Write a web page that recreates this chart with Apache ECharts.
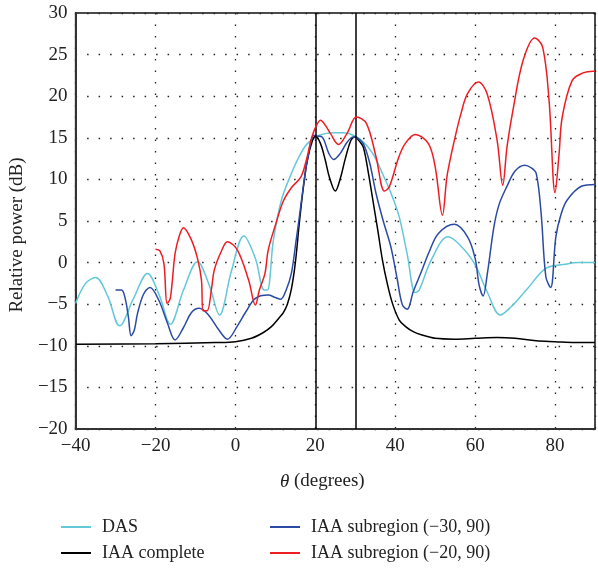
<!DOCTYPE html>
<html>
<head>
<meta charset="utf-8">
<script src="https://cdn.jsdelivr.net/npm/echarts@6/dist/echarts.min.js"></script>
<style>html,body{margin:0;padding:0;background:#fff}#c{width:598px;height:569px}</style>
</head>
<body>
<div id="c"></div>
<script>
const xTicks = [-40, -20, 0, 20, 40, 60, 80];
const yTicks = [-20, -15, -10, -5, 0, 5, 10, 15, 20, 25, 30];
const seriesNames = ['DAS', 'IAA complete', 'IAA subregion (\u221230, 90)', 'IAA subregion (\u221220, 90)'];
const markerAngles = [20, 30];

const dasTheta = [-40,-37.5,-35,-32,-29,-25.5,-22,-19,-16.3,-13,-9.5,-6.5,-4,-1,2.1,5,7.2,8,9.5,11.5,14,16,18,21,24.6,27,29.5,32,34.4,37,39.3,41,43,45,46,49,53.2,56,59.8,63,66.3,69,72.8,77.7,82.6,86,90];
const dasPower = [-4.9,-2.5,-1.8,-4,-7.6,-4.3,-1.3,-4,-7.4,-3.3,0.1,-2.8,-6.3,-1,3.2,0.5,-3.3,-3.3,2.7,7.5,10.7,12.8,14.3,15.3,15.6,15.6,15.3,14.5,13.1,10.5,7.9,5.5,1,-3.6,-3.3,0.3,3.1,2.2,-0.1,-3.5,-6.3,-5.3,-3.3,-0.7,-0.2,0,0];

const iaaTheta = [-40,-20,-5,0,4,7,9,11,12,13,14,15,16,17,18,19.3,20.1,21.3,22.5,23.5,25,26.3,27.5,29,30,31,32,33.2,34.4,35.6,36.8,38,39.3,41,42.6,44.5,46.7,50,54.8,60,65.5,70,75.3,80,85,90];
const iaaPower = [-9.8,-9.75,-9.6,-9.5,-9.1,-8.4,-7.7,-6.6,-6,-5,-3.2,0,4.8,9,12.3,14.7,15.2,14.3,12.3,10.3,8.6,10.2,12.5,14.8,15.1,14.6,13.9,11,7.5,4,0.3,-2.5,-4.9,-6.9,-7.7,-8.3,-8.7,-9.1,-9.2,-9.1,-9.0,-9.1,-9.4,-9.5,-9.6,-9.6];

const sub30Theta = [-30,-28.5,-27.6,-26.8,-26.1,-25.3,-24.5,-23,-21.4,-19.2,-17,-15.1,-13,-11,-9.1,-6.9,-4,-2,0.5,2.5,5,8.2,10,11.3,12.7,14,15.2,16,17.2,18,19.7,20.5,21.7,23.4,24.6,26.2,28,29.5,30.5,32,33.6,35.2,37,38.9,40.5,41.8,43,44.5,46.7,48.5,50.8,54.8,58.1,60,61,62,63,64.7,66,67.9,70,72.4,74,75.3,76.5,77.7,78.9,80.2,81.5,83,86.7,90];
const sub30Power = [-3.3,-3.3,-4.3,-6.5,-8.8,-8.1,-6.1,-3.8,-3,-4.5,-7.3,-9.3,-7.8,-6,-5.5,-6.2,-8.2,-9.2,-7.6,-6,-4.3,-3.9,-4.2,-4.4,-3.3,-1.3,2.7,5.5,9.9,12.3,15.3,15.2,15.1,13.1,12.4,13.1,14.5,15.1,15,14.3,12,8.3,5,1.9,-2,-5.1,-5.6,-3.5,-0.9,1.3,3.5,4.6,3.1,0.5,-2.7,-4,-1.5,4.3,7,9.1,11,11.7,11.4,10.7,6,-1.7,-3,3.1,5.8,7.5,9.2,9.4];

const sub20Theta = [-20,-18.9,-17.9,-17.1,-16.3,-15.1,-14,-13,-11,-9.5,-8.5,-8.1,-7.1,-6,-5.3,-3.5,-2,0.5,3.3,5,6,7.4,8.2,10,12,14,16.4,18,18.9,20,21.3,22.5,23.8,25.8,27.9,30.3,32.8,35.2,37.3,38.5,40.9,42.5,45,48.3,50,51.8,53,54.8,56.5,58.1,60.8,63,65.5,66.9,68,69.6,72,74.9,76.9,78.5,80,81,81.8,84.3,87,89.5,90];
const sub20Power = [1.6,1.4,-0.1,-4.9,-4.3,1.1,3.3,4.2,2.7,0.5,-2.1,-5.8,-5.8,-3.2,-0.9,1.4,2.5,1.5,-2.1,-5.1,-3.3,-1.3,1.5,4.5,7.4,9,10.3,12.8,14.7,16.2,17.1,16.5,15.5,14.2,15.5,17.5,16.7,12.7,8.6,9.1,12.7,14.3,15.4,14.3,11.5,5.7,10.5,14.7,18,20.3,21.7,20.3,14.7,9.3,14,18.7,24.3,27,25.9,19.5,8.4,13,17.5,21.9,22.8,23,23];

const colors = ['#63c8d8', '#000000', '#2b4aa3', '#ee1d24'];
const FONT = 'Liberation Serif';

function zip(xs, ys) { return xs.map((x, i) => [x, ys[i]]); }
function minus(v) { return String(v).replace('-', '\u2212'); }

const chart = echarts.init(document.getElementById('c'), null, { renderer: 'canvas' });

const datasets = [zip(dasTheta, dasPower), zip(iaaTheta, iaaPower), zip(sub30Theta, sub30Power), zip(sub20Theta, sub20Power)];

const series = datasets.map((d, i) => ({
  name: seriesNames[i],
  type: 'line',
  data: d,
  smooth: 0.35,
  showSymbol: false,
  symbol: 'none',
  z: [2, 3, 4, 5][i],
  lineStyle: { color: colors[i], width: 1.5 },
  itemStyle: { color: colors[i] }
}));

series.push({
  name: 'markers',
  type: 'line',
  data: [],
  markLine: {
    silent: true,
    symbol: ['none', 'none'],
    label: { show: false },
    lineStyle: { color: '#000', width: 1.5, type: 'solid' },
    data: markerAngles.map(a => ({ xAxis: a }))
  }
});

const legendBase = {
  top: 518, orient: 'vertical', padding: 0, itemGap: 8, itemWidth: 30, itemHeight: 2, icon: 'rect',
  textStyle: { fontFamily: FONT, fontSize: 18, color: '#222', lineHeight: 18, padding: [0, 0, 0, 6] }
};

chart.setOption({
  animation: false,
  backgroundColor: '#fff',
  grid: { left: 70, top: 13, width: 530, height: 416, show: true, borderColor: '#111', borderWidth: 1.5, backgroundColor: 'transparent' },
  xAxis: {
    type: 'value', min: -40, max: 90, interval: 20,
    name: '{i|\u03b8} (degrees)', nameLocation: 'middle', nameGap: 43,
    nameTextStyle: { fontFamily: FONT, fontSize: 19, color: '#222', padding: [0, 26, 0, 0], rich: { i: { fontFamily: FONT, fontStyle: 'italic', fontSize: 19, color: '#222' } } },
    axisLine: { show: true, onZero: false, lineStyle: { color: '#333', width: 2 } },
    axisTick: { show: false },
    axisLabel: { fontFamily: FONT, fontSize: 19, color: '#222', margin: 8, formatter: v => xTicks.includes(v) ? minus(v) : '' },
    splitLine: { show: true, lineStyle: { color: '#222', type: [1.5, 10], width: 1.3 } }
  },
  yAxis: {
    type: 'value', min: -20, max: 30, interval: 5,
    name: 'Relative power (dB)', nameLocation: 'middle', nameGap: 43,
    nameTextStyle: { fontFamily: FONT, fontSize: 19, color: '#222', padding: [0, 28, 0, 0] },
    axisLine: { show: true, onZero: false, lineStyle: { color: '#333', width: 2 } },
    axisTick: { show: false },
    axisLabel: { fontFamily: FONT, fontSize: 19, color: '#222', margin: 8, formatter: v => yTicks.includes(v) ? minus(v) : '' },
    splitLine: { show: true, lineStyle: { color: '#222', type: [1.5, 10], width: 1.3 } }
  },
  legend: [
    Object.assign({}, legendBase, { left: 61, data: [seriesNames[0], seriesNames[1]] }),
    Object.assign({}, legendBase, { left: 270, data: [seriesNames[2], seriesNames[3]] })
  ],
  series: series
});
</script>
</body>
</html>
